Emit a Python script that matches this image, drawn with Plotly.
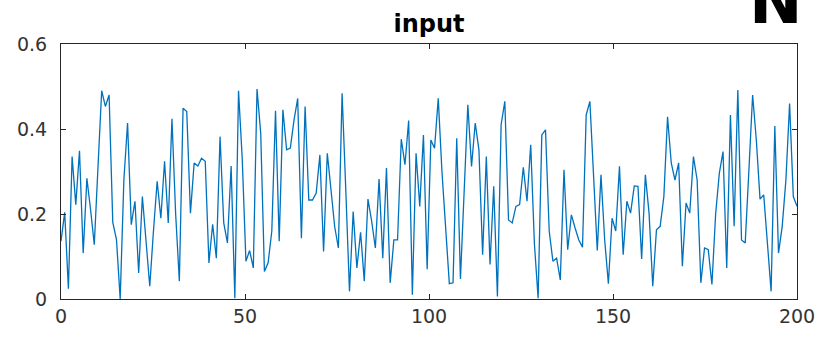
import plotly.graph_objects as go

title_text = "input"
corner_text = "N"

values = [
    0.136, 0.204, 0.024, 0.335, 0.222, 0.349, 0.108, 0.284, 0.21, 0.128,
    0.31, 0.49, 0.453, 0.48, 0.18, 0.14, 0.0, 0.28, 0.414, 0.175,
    0.23, 0.061, 0.241, 0.13, 0.03, 0.16, 0.277, 0.19, 0.324, 0.179,
    0.424, 0.2, 0.042, 0.449, 0.441, 0.202, 0.32, 0.313, 0.331, 0.324,
    0.085, 0.176, 0.096, 0.382, 0.179, 0.132, 0.313, 0.002, 0.49, 0.33,
    0.089, 0.114, 0.073, 0.494, 0.39, 0.065, 0.085, 0.16, 0.443, 0.136,
    0.445, 0.351, 0.355, 0.421, 0.472, 0.143, 0.453, 0.233, 0.233, 0.249,
    0.339, 0.112, 0.343, 0.257, 0.17, 0.12, 0.484, 0.257, 0.018, 0.206,
    0.073, 0.157, 0.042, 0.235, 0.183, 0.12, 0.282, 0.096, 0.308, 0.038,
    0.139, 0.139, 0.376, 0.316, 0.42, 0.01, 0.343, 0.218, 0.386, 0.07,
    0.374, 0.355, 0.472, 0.30, 0.16, 0.036, 0.038, 0.378, 0.047, 0.241,
    0.457, 0.312, 0.414, 0.351, 0.104, 0.335, 0.081, 0.265, 0.006, 0.41,
    0.465, 0.186, 0.179, 0.218, 0.222, 0.31, 0.23, 0.363, 0.13, 0.002,
    0.386, 0.398, 0.16, 0.089, 0.096, 0.045, 0.304, 0.116, 0.198, 0.167,
    0.139, 0.122, 0.433, 0.465, 0.28, 0.114, 0.292, 0.139, 0.036, 0.19,
    0.16, 0.312, 0.104, 0.23, 0.202, 0.266, 0.265, 0.094, 0.292, 0.202,
    0.03, 0.163, 0.171, 0.241, 0.429, 0.32, 0.28, 0.32, 0.077, 0.226,
    0.202, 0.335, 0.28, 0.038, 0.12, 0.116, 0.034, 0.2, 0.296, 0.347,
    0.073, 0.433, 0.171, 0.492, 0.139, 0.132, 0.304, 0.48, 0.374, 0.235,
    0.245, 0.139, 0.018, 0.407, 0.108, 0.171, 0.28, 0.46, 0.241, 0.218,
]
n = len(values)
x_vals = [i * 200.0 / (n - 1) for i in range(n)]

x_ticks = [0, 50, 100, 150, 200]
x_tick_labels = ["0", "50", "100", "150", "200"]
y_ticks = [0, 0.2, 0.4, 0.6]
y_tick_labels = ["0", "0.2", "0.4", "0.6"]

axis_color = "#262626"
font_family = "DejaVu Sans"

fig = go.Figure()
fig.add_trace(go.Scatter(
    x=x_vals, y=values, mode="lines",
    line=dict(color="#0072BD", width=1.3),
    hoverinfo="skip", showlegend=False, cliponaxis=True,
))

common = dict(
    showline=True, linecolor=axis_color, linewidth=1.2, mirror="ticks",
    ticks="inside", ticklen=5, tickwidth=1.2, tickcolor=axis_color,
    showgrid=False, zeroline=False, automargin=False,
    tickfont=dict(family=font_family, size=19, color="#333333"),
)

fig.update_xaxes(range=[0, 200], tickvals=x_ticks, ticktext=x_tick_labels,
                 ticklabelstandoff=0, **common)
fig.update_yaxes(range=[0, 0.6], tickvals=y_ticks, ticktext=y_tick_labels,
                 ticklabelstandoff=9, **common)

fig.update_layout(
    width=819, height=338,
    margin=dict(l=61, r=22, t=44, b=39, autoexpand=False),
    paper_bgcolor="white", plot_bgcolor="white",
    title=dict(text="<b>" + title_text + "</b>", x=0.5, xref="paper",
               xanchor="center", y=1 - 24 / 338, yanchor="middle",
               font=dict(family=font_family, size=24, color="#000000")),
    annotations=[dict(
        text="<b>" + corner_text + "</b>", xref="paper", yref="paper",
        x=(776 - 61) / 736.0, y=1.016, xanchor="center", yanchor="bottom",
        showarrow=False,
        font=dict(family=font_family, size=64, color="#000000"),
    )],
)

fig.write_html("out.html")
